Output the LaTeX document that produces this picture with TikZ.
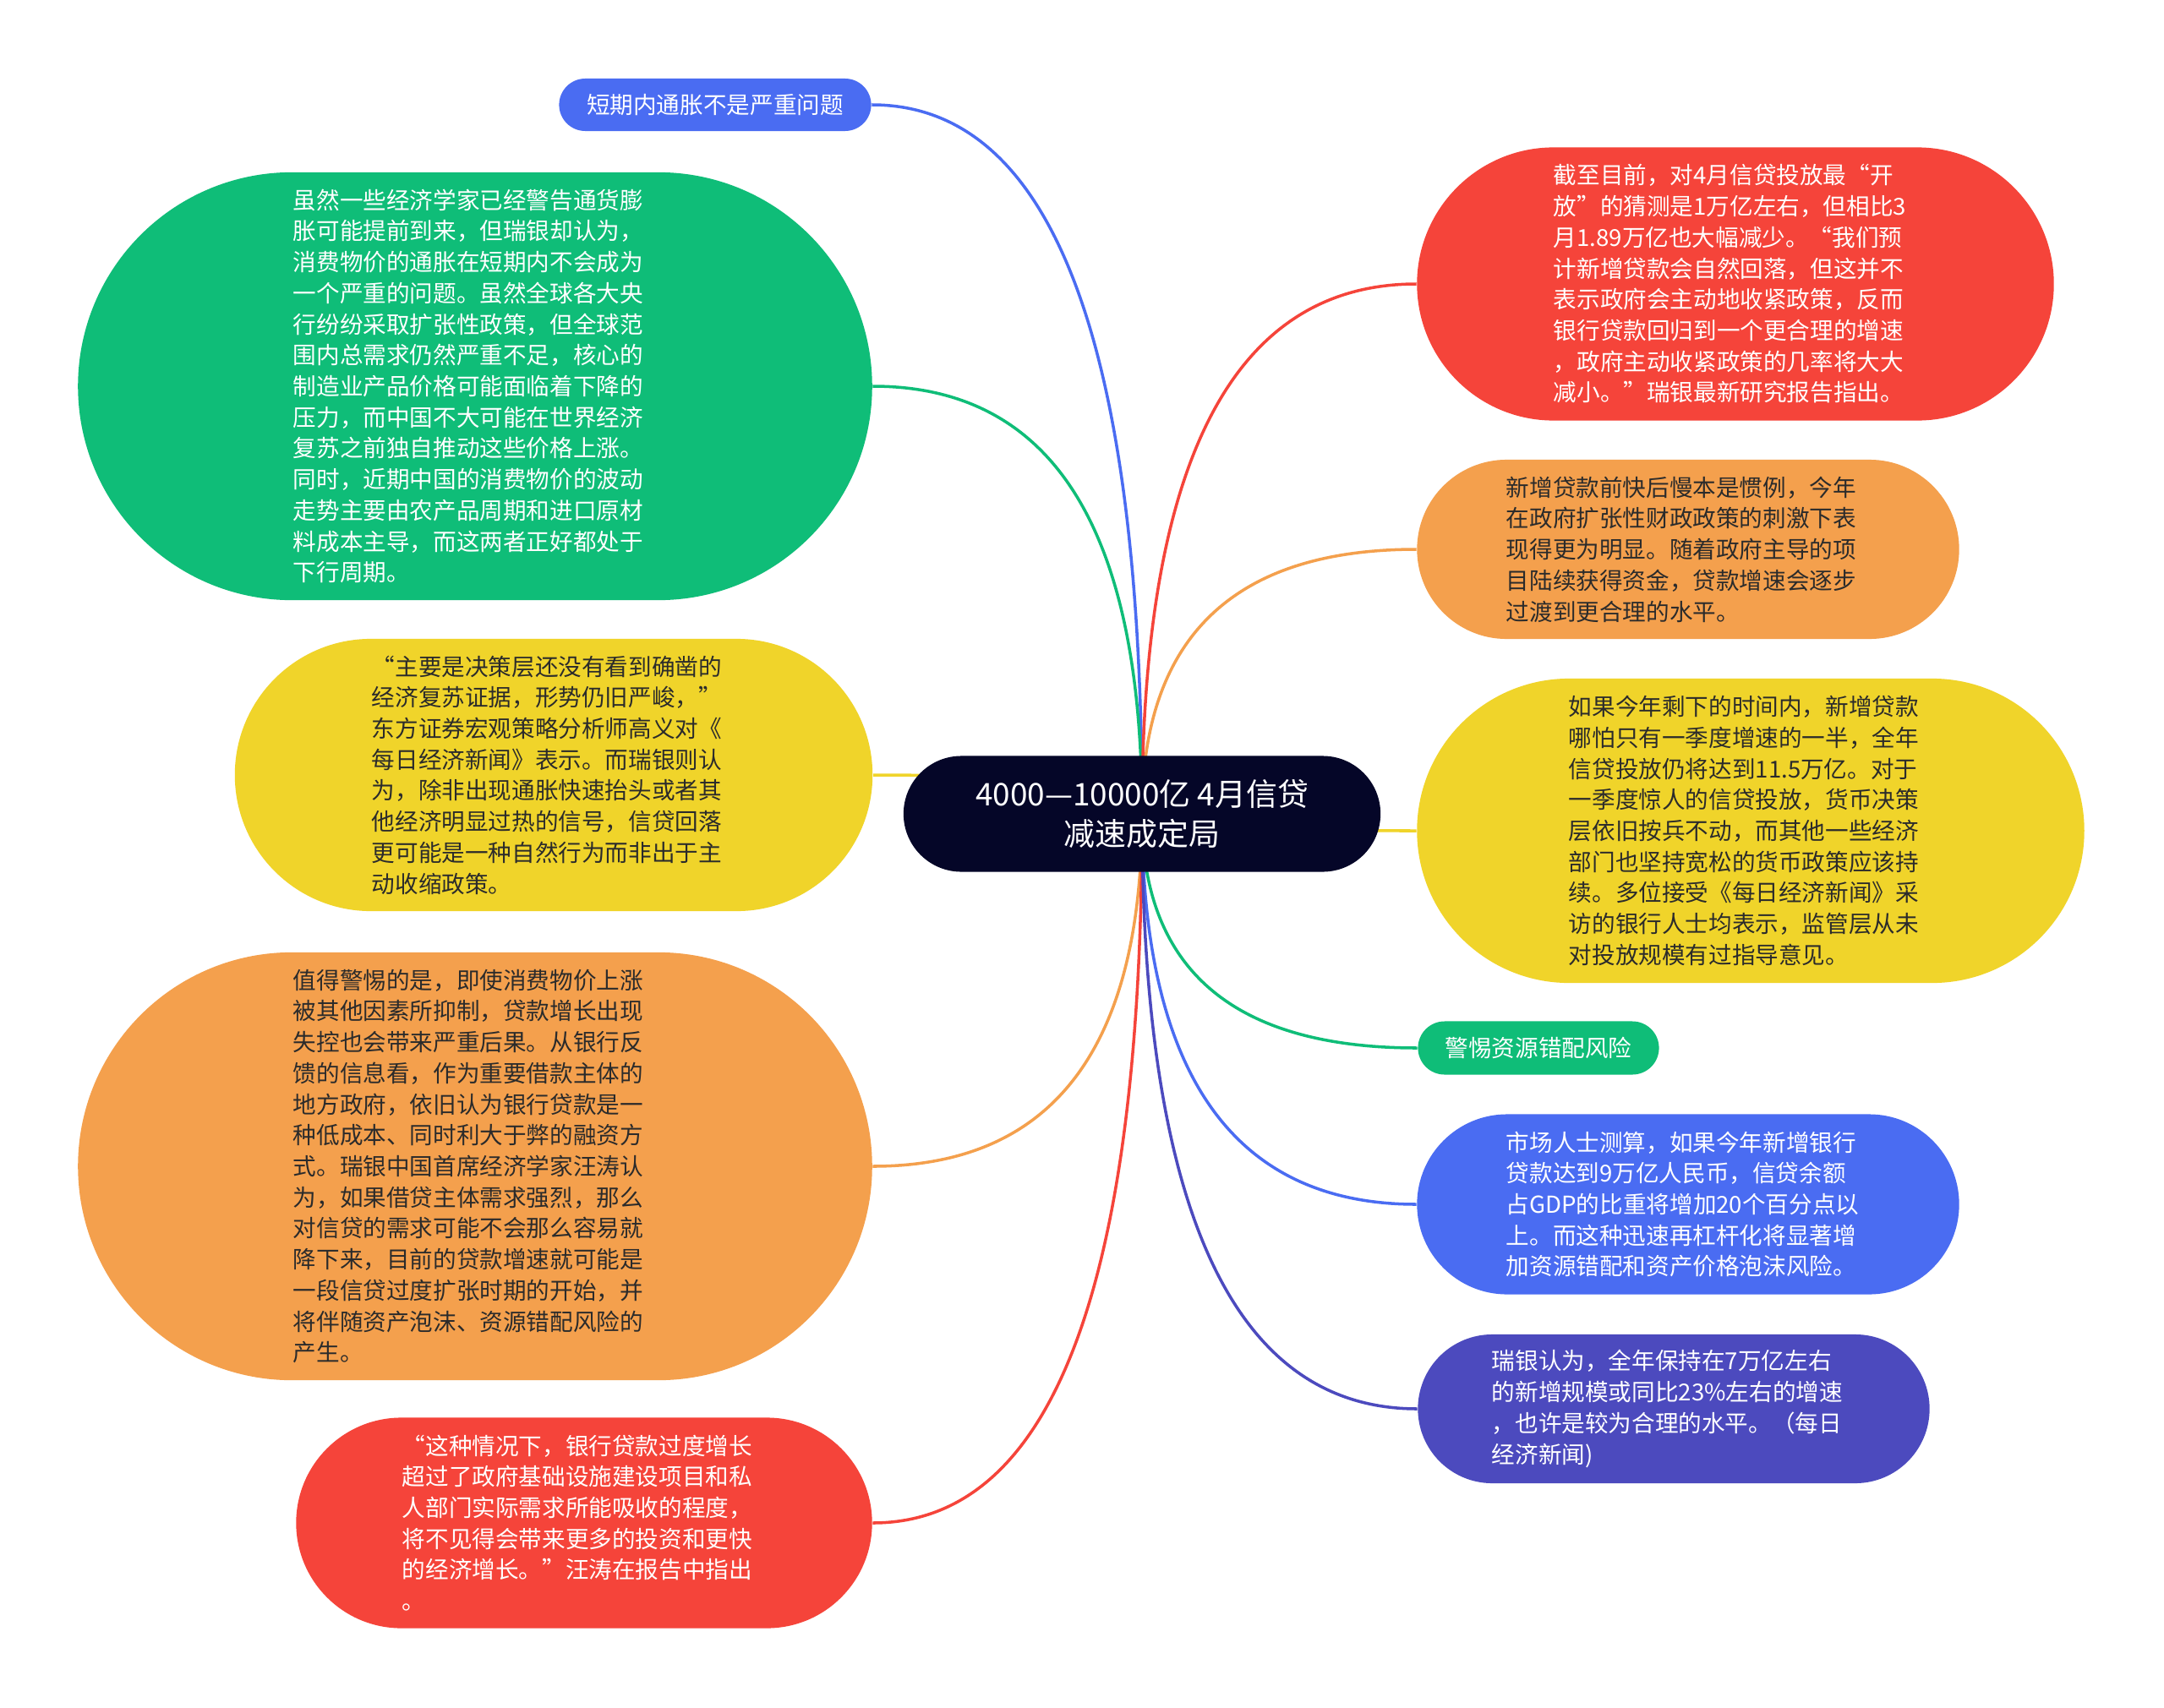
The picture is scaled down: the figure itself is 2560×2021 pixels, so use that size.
\documentclass[tikz,border=0pt]{standalone}
\usepackage{fontspec}
\setmainfont{Noto Sans CJK SC}
\usetikzlibrary{calc,backgrounds}
\definecolor{cblue}{HTML}{4A6CF2}
\definecolor{cgreen}{HTML}{0FBD78}
\definecolor{cyellow}{HTML}{F0D42A}
\definecolor{corange}{HTML}{F4A04D}
\definecolor{cred}{HTML}{F5443A}
\definecolor{cpurple}{HTML}{4C4ABE}
\definecolor{cnavy}{HTML}{050628}
\definecolor{cdark}{HTML}{2B2B2B}
\tikzset{
  mmnode/.style={inner sep=0pt, align=left, font=\fontsize{7.85pt}{10.44pt}\selectfont},
  para/.style={mmnode, text width=4.30cm},
  lighttext/.style={text=white},
  darktext/.style={text=cdark},
  conn/.style={line width=1pt},
}
\newcommand\mmconn[2]{%
  \coordinate (tmpq) at (c.center |- #1);
  \draw[conn,#2] (c.center) .. controls ($(c.center)!0.6667!(tmpq)$) and ($(#1)!0.6667!(tmpq)$) .. (#1);
}
\begin{document}
\begin{tikzpicture}[x=0.01cm,y=-0.01cm]
\useasboundingbox (0,0) rectangle (2560,2021);

% centre
\node[mmnode, align=center, fill=cnavy, text=white, font=\fontsize{10.5pt}{13.4pt}\selectfont,
  minimum width=5.64cm, minimum height=1.37cm, rounded corners=0.685cm] (c) at (1351,963)
  {4000—10000亿 4月信贷\\减速成定局};

% left side
\node[mmnode, fill=cblue, lighttext, minimum width=3.69cm, minimum height=0.62cm, rounded corners=0.31cm]
  (n1) at (846,124) {短期内通胀不是严重问题};

\node[para, fill=cgreen, lighttext, minimum width=9.39cm, minimum height=5.06cm, rounded corners=2.53cm]
  (n2) at (562,457) {虽然一些经济学家已经警告通货膨\\胀可能提前到来，但瑞银却认为，\\消费物价的通胀在短期内不会成为\\一个严重的问题。虽然全球各大央\\行纷纷采取扩张性政策，但全球范\\围内总需求仍然严重不足，核心的\\制造业产品价格可能面临着下降的\\压力，而中国不大可能在世界经济\\复苏之前独自推动这些价格上涨。\\同时，近期中国的消费物价的波动\\走势主要由农产品周期和进口原材\\料成本主导，而这两者正好都处于\\下行周期。};

\node[para, fill=cyellow, darktext, minimum width=7.54cm, minimum height=3.22cm, rounded corners=1.61cm]
  (n3) at (655,917) {“主要是决策层还没有看到确凿的\\经济复苏证据，形势仍旧严峻，”\\东方证券宏观策略分析师高义对《\\每日经济新闻》表示。而瑞银则认\\为，除非出现通胀快速抬头或者其\\他经济明显过热的信号，信贷回落\\更可能是一种自然行为而非出于主\\动收缩政策。};

\node[para, fill=corange, darktext, minimum width=9.39cm, minimum height=5.06cm, rounded corners=2.53cm]
  (n4) at (562,1380) {值得警惕的是，即使消费物价上涨\\被其他因素所抑制，贷款增长出现\\失控也会带来严重后果。从银行反\\馈的信息看，作为重要借款主体的\\地方政府，依旧认为银行贷款是一\\种低成本、同时利大于弊的融资方\\式。瑞银中国首席经济学家汪涛认\\为，如果借贷主体需求强烈，那么\\对信贷的需求可能不会那么容易就\\降下来，目前的贷款增速就可能是\\一段信贷过度扩张时期的开始，并\\将伴随资产泡沫、资源错配风险的\\产生。};

\node[para, fill=cred, lighttext, minimum width=6.81cm, minimum height=2.49cm, rounded corners=1.245cm]
  (n5) at (691,1802) {“这种情况下，银行贷款过度增长\\超过了政府基础设施建设项目和私\\人部门实际需求所能吸收的程度，\\将不见得会带来更多的投资和更快\\的经济增长。”汪涛在报告中指出\\。};

% right side
\node[para, fill=cred, lighttext, minimum width=7.53cm, minimum height=3.23cm, rounded corners=1.615cm]
  (m1) at (2053,336) {截至目前，对4月信贷投放最“开\\放”的猜测是1万亿左右，但相比3\\月1.89万亿也大幅减少。“我们预\\计新增贷款会自然回落，但这并不\\表示政府会主动地收紧政策，反而\\银行贷款回归到一个更合理的增速\\，政府主动收紧政策的几率将大大\\减小。”瑞银最新研究报告指出。};

\node[para, fill=corange, darktext, minimum width=6.41cm, minimum height=2.12cm, rounded corners=1.06cm]
  (m2) at (1997,650) {新增贷款前快后慢本是惯例，今年\\在政府扩张性财政政策的刺激下表\\现得更为明显。随着政府主导的项\\目陆续获得资金，贷款增速会逐步\\过渡到更合理的水平。};

\node[para, fill=cyellow, darktext, minimum width=7.89cm, minimum height=3.60cm, rounded corners=1.80cm]
  (m3) at (2071,983) {如果今年剩下的时间内，新增贷款\\哪怕只有一季度增速的一半，全年\\信贷投放仍将达到11.5万亿。对于\\一季度惊人的信贷投放，货币决策\\层依旧按兵不动，而其他一些经济\\部门也坚持宽松的货币政策应该持\\续。多位接受《每日经济新闻》采\\访的银行人士均表示，监管层从未\\对投放规模有过指导意见。};

\node[mmnode, fill=cgreen, lighttext, minimum width=2.85cm, minimum height=0.63cm, rounded corners=0.315cm]
  (m4) at (1820,1240) {警惕资源错配风险};

\node[para, fill=cblue, lighttext, minimum width=6.41cm, minimum height=2.13cm, rounded corners=1.065cm]
  (m5) at (1997,1425) {市场人士测算，如果今年新增银行\\贷款达到9万亿人民币，信贷余额\\占GDP的比重将增加20个百分点以\\上。而这种迅速再杠杆化将显著增\\加资源错配和资产价格泡沫风险。};

\node[para, fill=cpurple, lighttext, minimum width=6.05cm, minimum height=1.76cm, rounded corners=0.88cm]
  (m6) at (1980,1667) {瑞银认为，全年保持在7万亿左右\\的新增规模或同比23\%左右的增速\\，也许是较为合理的水平。（每日\\经济新闻)};

\begin{scope}[on background layer]
  \fill[white] (0,0) rectangle (2560,2021);
  \mmconn{n1.east}{cblue}
  \mmconn{n2.east}{cgreen}
  \mmconn{n3.east}{cyellow}
  \mmconn{n4.east}{corange}
  \mmconn{n5.east}{cred}
  \mmconn{m1.west}{cred}
  \mmconn{m2.west}{corange}
  \mmconn{m3.west}{cyellow}
  \mmconn{m4.west}{cgreen}
  \mmconn{m5.west}{cblue}
  \mmconn{m6.west}{cpurple}
\end{scope}
\end{tikzpicture}
\end{document}
